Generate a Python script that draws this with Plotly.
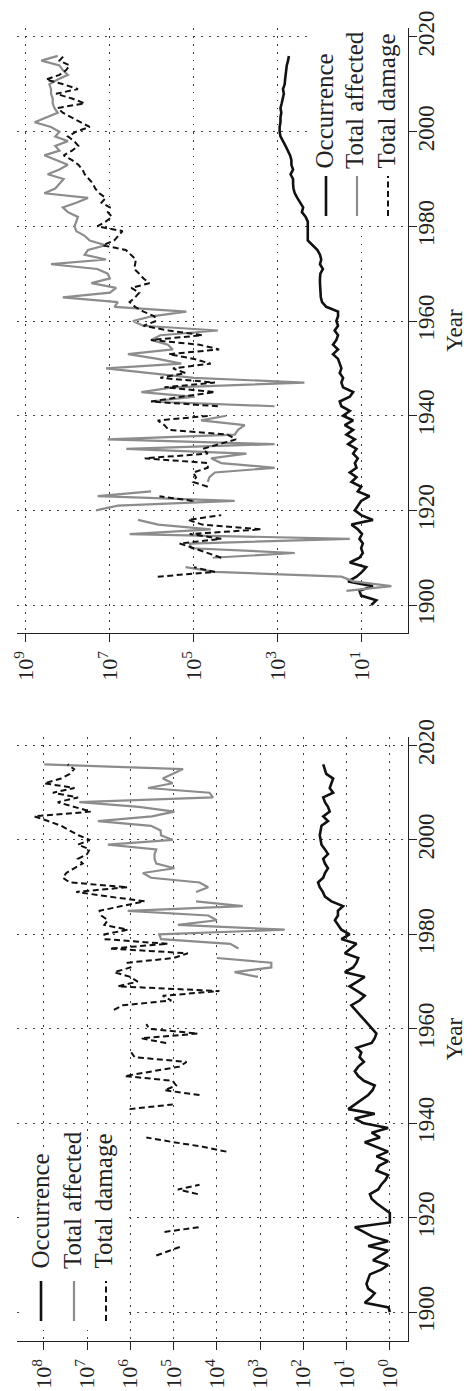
import plotly.graph_objects as go

years = list(range(1900, 2017))
N = None

# ---- Lower panel (A): log10 of the plotted values ----
occA_log = [0.0, 0.03, 0.58, 0.45, 0.35, 0.5, 0.54, 0.5, 0.46, 0.2,
            0.04, 0.39, 0.2, 0.04, 0.5, 0.04, 0.4, 0.6, 0.81, 0.0,
            0.0, 0.0, 0.15, 0.3, 0.42, 0.46, 0.27, 0.2, 0.1, 0.04,
            0.31, 0.25, 0.04, 0.31, 0.04, 0.3, 0.58, 0.23, 0.42, 0.04,
            0.6, 0.81, 0.35, 0.96, 0.8, 0.66, 0.5, 0.4, 0.35, 0.6,
            0.73, 0.81, 0.73, 0.6, 0.7, 0.66, 0.77, 0.42, 0.35, 0.31,
            0.4, 0.5, 0.6, 0.7, 0.8, 0.89, 0.7, 0.58, 0.75, 0.93,
            0.75, 0.58, 1.04, 0.85, 0.77, 0.73, 1.04, 0.9, 0.77, 1.12,
            0.93, 1.12, 1.2, 1.27, 1.2, 1.2, 1.08, 1.35, 1.5, 1.55,
            1.62, 1.66, 1.54, 1.5, 1.43, 1.5, 1.54, 1.43, 1.5, 1.58,
            1.6, 1.62, 1.6, 1.58, 1.43, 1.54, 1.39, 1.43, 1.5, 1.54,
            1.31, 1.39, 1.35, 1.31, 1.47, 1.5, 1.54]

affA_log = [N]*71 + [3.05, 3.59, 2.74, 2.74, 4.0, N, 3.5, 3.69, 5.29,
                     5.33, 2.43, 4.9, 4.0, 4.2, 6.06, 3.4, 4.48, N, 4.48,
                     4.2, 4.4, 5.52, 5.71, 4.98, 5.4, 5.44, 5.44, 5.4, 6.52,
                     5.02, 5.29, 5.3, 5.52, 6.75, 5.5, 4.98, 5.8, 7.18, 4.09,
                     4.17, 5.59, 5.02, 5.25, 5.0, 4.78, 7.99]

dmgA_log = ([N]*12 + [5.4, 5.1, 4.8, N, N, 5.21, 4.4, N,
                      N, N, N, N, N, 4.44, 4.9, 4.4, N, N,
                      N, N, N, N, 3.78, 4.3, 5.0, 5.63, N, N,
                      N, N, N, 6.02, 5.02, N, 4.4, 5.21, 4.94, 5.02,
                      6.13, 5.5, 4.86, 4.7, 5.9, 5.98, N, 5.17, 5.75, 4.44,
                      5.56, 5.63, N, N, 6.38, 6.17, 5.05, 5.25, 3.94, 6.29,
                      5.83, 6.0, 6.37, 6.0, 6.06, 5.0, 4.67, 6.48, 5.13, 6.6,
                      6.6, 6.06, 6.6, 6.52, 6.67, 6.71, 6.2, 5.67, 6.5, 7.25,
                      6.06, 7.4, 7.56, 7.48, 7.3, 7.1, 7.21, 7.0, 6.94, 7.21,
                      6.94, 7.2, 7.4, 7.6, 7.9, 8.22, 6.91, 7.3, 7.68, 7.21,
                      7.79, 7.29, 7.99, 7.6, 7.4, 7.3, 7.45])

# ---- Upper panel (B): log10 of the plotted values ----
occB_log = [0.78, 0.66, 1.02, 1.06, 0.74, 1.33, 1.13, 1.0, 0.9, 1.29,
            1.06, 0.98, 1.02, 0.98, 1.06, 1.0, 1.1, 1.25, 0.74, 1.02,
            1.17, 1.1, 1.02, 0.82, 1.1, 1.02, 1.25, 1.13, 1.29, 1.13,
            1.17, 1.1, 1.21, 1.13, 1.33, 1.17, 1.37, 1.21, 1.41, 1.21,
            1.45, 1.29, 1.49, 1.53, 1.29, 1.21, 1.45, 1.49, 1.45, 1.53,
            1.49, 1.53, 1.57, 1.69, 1.57, 1.69, 1.61, 1.57, 1.65, 1.57,
            1.61, 1.57, 1.57, 1.85, 1.95, 1.98, 1.99, 2.0, 2.0, 2.0,
            1.99, 1.93, 2.0, 1.97, 2.0, 2.06, 2.17, 2.29, 2.29, 2.29,
            2.29, 2.29, 2.34, 2.43, 2.40, 2.48, 2.54, 2.60, 2.63, 2.64,
            2.64, 2.70, 2.64, 2.68, 2.68, 2.71, 2.76, 2.82, 2.88, 2.94,
            2.96, 2.96, 2.94, 2.94, 2.92, 2.94, 2.91, 2.88, 2.86, 2.88,
            2.84, 2.83, 2.82, 2.80, 2.79, 2.76, 2.74]

affB_log = [N, N, N, 1.37, 0.30, 1.2, 1.49, 4.5, 5.2, N,
            4.55, 2.6, 5.06, 5.1, 1.29, 6.53, 4.6, 5.85, 6.33, N,
            7.33, 6.81, 4.03, 7.29, 6.02, N, 4.67, 4.63, 4.5, 3.08,
            4.35, 4.59, 3.75, 6.61, 3.08, 7.05, 4.03, 3.95, 3.79, 4.83,
            4.23, N, 3.08, 6.02, 4.98, 6.25, 5.5, 2.37, 5.0, 6.0,
            7.09, 5.3, 5.86, 6.57, 5.5, 5.62, 6.02, 5.8, 4.43, 6.21,
            6.45, 6.0, 5.18, 6.89, 6.81, 8.12, 7.0, 6.85, 7.44, 7.0,
            7.05, 7.3, 8.4, 7.09, 7.6, 7.52, 7.1, 7.48, 7.6, 7.8,
            7.84, 7.8, 7.76, 8.0, 8.12, 7.8, 7.52, 8.56, 8.3, 8.2,
            8.1, 8.48, 8.2, 8.0, 8.3, 8.56, 8.2, 8.3, 8.0, 8.3,
            8.2, 8.4, 8.79, 8.5, 8.24, 8.32, 8.36, 8.36, 8.4, 8.4,
            8.44, 8.24, 8.0, 8.12, 8.2, 8.63, 8.24]

dmgB_log = [N, N, N, N, N, N, 5.86, 4.5, 5.0, N,
            4.35, 4.7, 5.0, 5.34, 4.35, 5.1, 3.4, 4.8, 5.14, 4.35,
            N, N, 5.03, 5.82, N, 4.67, 5.02, 4.95, 5.02, 4.67,
            4.67, 6.17, 4.67, 4.79, 4.4, 4.0, 4.2, 5.6, 5.7, 5.86,
            4.6, N, 4.43, 6.02, 5.3, 4.5, 5.7, 4.5, 5.8, 5.2,
            5.5, 4.6, 5.0, 5.6, 4.4, 4.87, 6.02, 4.8, 5.6, 6.2,
            5.9, 5.94, 6.2, 6.4, 6.53, 6.4, 6.3, 6.49, 6.06, 6.2,
            6.3, 6.42, 6.4, 6.38, 6.5, 6.62, 7.17, 6.9, 6.8, 6.7,
            7.3, 7.1, 6.95, 7.05, 7.0, 7.2, 7.1, 7.25, 7.35, 7.4,
            7.5, 7.6, 7.65, 7.75, 7.9, 8.1, 7.9, 7.75, 7.85, 8.0,
            7.8, 7.48, 7.7, 7.9, 8.12, 8.24, 7.6, 7.9, 8.28, 7.76,
            8.1, 8.52, 8.2, 8.04, 7.96, 8.2, 8.1]

tickA = list(range(0, 9))
tickB = [1, 3, 5, 7, 9]
year_ticks = [1900, 1920, 1940, 1960, 1980, 2000, 2020]

labels = ["Occurrence", "Total affected", "Total damage"]


def vals(lst):
    return [None if v is None else 10 ** v for v in lst]


FONT = "Liberation Serif"
INK = "#222222"
GRID = "#3a3a3a"
styles = [dict(color="#111111", width=2.6),
          dict(color="#8c8c8c", width=2.2),
          dict(color="#111111", width=2.0, dash="6px,3.5px")]

fig = go.Figure()
for series, st, name in zip([occA_log, affA_log, dmgA_log], styles, labels):
    fig.add_trace(go.Scatter(x=vals(series), y=years, mode="lines", line=st,
                             name=name, xaxis="x", yaxis="y",
                             connectgaps=False, showlegend=False))
for series, st, name in zip([occB_log, affB_log, dmgB_log], styles, labels):
    fig.add_trace(go.Scatter(x=vals(series), y=years, mode="lines", line=st,
                             name=name, xaxis="x2", yaxis="y2",
                             connectgaps=False, showlegend=False))

W, H = 473, 1391
ML, MR, MT, MB = 9, 73, 20, 58
PW, PH = W - ML - MR, H - MT - MB


def px(xp):
    return (xp - ML) / PW


def py(yp):
    return (H - MB - yp) / PH


grid_dash = "1.5px,6.5px"
common_x = dict(type="log", showline=True, linecolor=INK, linewidth=1.4,
                ticks="outside", ticklen=8, tickwidth=1.4, tickcolor=INK,
                tickangle=-90, showgrid=True, gridcolor=GRID, gridwidth=1.1,
                griddash=grid_dash, zeroline=False, mirror=False,
                tickfont=dict(family=FONT, size=22, color=INK))
common_y = dict(side="right", showline=True, linecolor=INK, linewidth=1.4,
                ticks="outside", ticklen=8, tickwidth=1.4, tickcolor=INK,
                tickangle=-90, showgrid=True, gridcolor=GRID, gridwidth=1.1,
                griddash=grid_dash, zeroline=False, ticklabelstandoff=-11,
                tickvals=year_ticks, ticktext=[str(y) for y in year_ticks],
                tickfont=dict(family=FONT, size=23, color=INK),
                title=dict(text="Year", font=dict(family=FONT, size=23, color=INK), standoff=8))

fig.update_layout(
    width=W, height=H,
    margin=dict(l=ML, r=MR, t=MT, b=MB, autoexpand=False),
    paper_bgcolor="white", plot_bgcolor="white",
    font=dict(family=FONT, size=23, color=INK),
    showlegend=False,
    xaxis=dict(common_x, domain=[0, 1], anchor="y", range=[8.62, -0.42],
               tickvals=[10 ** k for k in tickA],
               ticktext=[f"10<sup>{k}</sup>" for k in tickA]),
    yaxis=dict(common_y, domain=[0, py(729)], anchor="x", range=[1893.9, 2021.8]),
    xaxis2=dict(common_x, domain=[0, 1], anchor="y2", range=[9.21, -0.095],
                tickvals=[10 ** k for k in tickB],
                ticktext=[f"10<sup>{k}</sup>" for k in tickB]),
    yaxis2=dict(common_y, domain=[py(625), 1], anchor="x2", range=[1894.1, 2021.9]),
)

# Rotated legends (drawn as shapes + rotated annotations)
shapes = []
annotations = []


def legend(box, xs, y0, y1, ytext, txs):
    bx0, by0, bx1, by1 = box
    shapes.append(dict(type="rect", xref="paper", yref="paper",
                       x0=px(bx0), x1=px(bx1), y0=py(by1), y1=py(by0),
                       fillcolor="white", line=dict(width=0), layer="above"))
    for xc, st, tx, name in zip(xs, styles, txs, labels):
        shapes.append(dict(type="line", xref="paper", yref="paper",
                           x0=px(xc), x1=px(xc), y0=py(y1), y1=py(y0),
                           line=st, layer="above"))
        annotations.append(dict(text=name, xref="paper", yref="paper",
                                x=px(tx), y=py(ytext), xanchor="center", yanchor="bottom",
                                textangle=-90, showarrow=False,
                                font=dict(family=FONT, size=25, color=INK)))


legend((302, 20, 398, 216), [318, 349, 380], 168, 208, 163, [316, 347, 378])
legend((13, 1140, 116, 1322), [33, 66, 98], 1273, 1313, 1263, [32, 64, 95])

fig.update_layout(shapes=shapes, annotations=annotations)
fig.write_html("out.html")
